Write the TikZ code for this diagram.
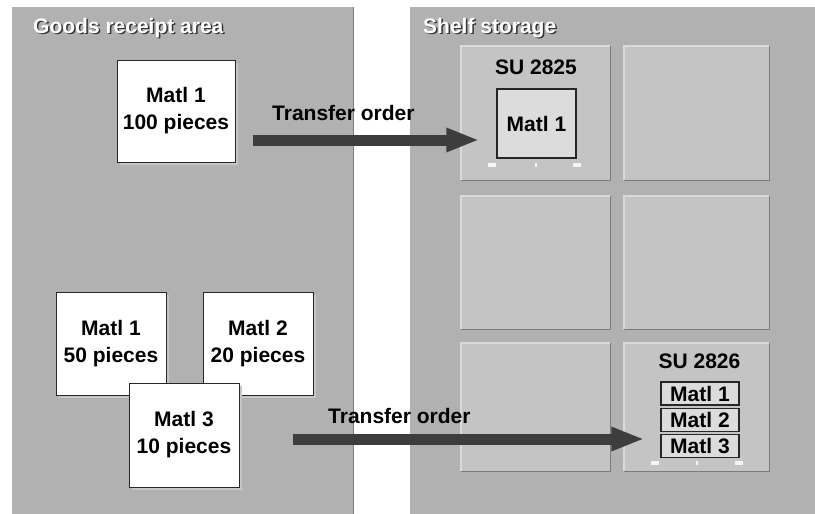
\documentclass[tikz,border=0pt]{standalone}
\usepackage{fontspec}
\setmainfont{Liberation Sans}
\usetikzlibrary{positioning, arrows.meta, shadows, calc}

\definecolor{panelgray}{HTML}{B1B1B1}
\definecolor{shelfgray}{HTML}{C4C4C4}
\definecolor{edgelight}{HTML}{DADADA}
\definecolor{edgedark}{HTML}{7A7A7A}
\definecolor{matgray}{HTML}{DCDCDC}
\definecolor{arrowgray}{HTML}{3D3D3D}
\definecolor{shadowgray}{HTML}{C6C6C6}

\tikzset{
  txt/.style={font=\fontsize{21}{27}\selectfont\bfseries, text=black, inner sep=0pt},
  panel/.style={fill=panelgray, draw=none, anchor=north west, inner sep=0pt},
  title/.style={txt, text=white, anchor=base west},
  titleshadow/.style={txt, text=black!80, anchor=base west},
  matbox/.style={txt, draw=black!85, line width=1pt, fill=white, align=center,
    drop shadow={shadow xshift=3pt, shadow yshift=-3pt, fill=shadowgray, opacity=1}},
  shelf/.style={fill=shelfgray, draw=none, anchor=north west, inner sep=0pt},
  sumat/.style={txt, draw=black!85, line width=1.2pt, fill=matgray},
  slotmark/.style={fill=white!92!gray, draw=none, inner sep=0pt, minimum height=4pt},
  transfer/.style={arrowgray, line width=11pt, -{Triangle[length=33pt, width=22pt]}}
}

\begin{document}
\begin{tikzpicture}[x=1pt, y=-1pt]
  \useasboundingbox (0,0) rectangle (815,514);

  % Areas
  \node[panel, minimum width=341pt, minimum height=507pt] (recv) at (12,7) {};
  \node[panel, minimum width=405pt, minimum height=507pt] (store) at (410,7) {};
  \draw[edgedark, line width=1pt] (recv.north east) -- (recv.south east);

  \node[titleshadow] (recvshadow) at (34.5,34.5) {Goods receipt area};
  \node[title] (recvtitle) at (33,33) {Goods receipt area};
  \node[titleshadow] (storeshadow) at (424.5,34.5) {Shelf storage};
  \node[title] (storetitle) at (423,33) {Shelf storage};

  % Shelf bins
  \foreach \c/\cx/\cw in {1/461/149, 2/624/145}
    \foreach \r/\ry/\rh in {1/46/134, 2/196/133, 3/343/128}
    {
      \node[shelf, minimum width=\cw pt, minimum height=\rh pt] (s\r\c) at (\cx,\ry) {};
      \draw[edgelight, line width=1.5pt] (s\r\c.south west) -- (s\r\c.north west) -- (s\r\c.north east);
      \draw[edgedark, line width=1.5pt] (s\r\c.north east) -- (s\r\c.south east) -- (s\r\c.south west);
    }

  % Storage unit 2825
  \node[txt, anchor=base] (su1) at (536,74) {SU 2825};
  \node[sumat, minimum width=79pt, minimum height=69pt] (su1mat) at (536.5,123.5) {Matl 1};
  \foreach \mx/\mw [count=\i] in {-44/8, 0/2, 41/8}
    \node[slotmark, minimum width=\mw pt] (mka\i) at ($(s11.south)+(\mx,-15)$) {};

  % Storage unit 2826
  \node[txt, anchor=base] (su2) at (699.5,368) {SU 2826};
  \node[sumat, minimum width=78pt, minimum height=23pt] (su2m1) at (700,393.5) {Matl 1};
  \node[sumat, minimum width=78pt, minimum height=23pt, below=2pt of su2m1] (su2m2) {Matl 2};
  \node[sumat, minimum width=78pt, minimum height=23pt, below=2pt of su2m2] (su2m3) {Matl 3};
  \foreach \mx/\mw [count=\i] in {-41.5/8, 0.5/2, 42.5/8}
    \node[slotmark, minimum width=\mw pt] (mkb\i) at ($(s32.south)+(\mx,-8)$) {};

  % Goods in the receipt area
  \node[matbox, minimum width=118pt, minimum height=102pt] (m100) at (176,111) {Matl 1\\100 pieces};
  \node[matbox, minimum width=110pt, minimum height=103pt] (m50) at (111,343.5) {Matl 1\\50 pieces};
  \node[matbox, minimum width=110pt, minimum height=103pt] (m20) at (258,343.5) {Matl 2\\20 pieces};
  \node[matbox, minimum width=110pt, minimum height=104pt] (m10) at (184,435) {Matl 3\\10 pieces};

  % Transfer orders
  \coordinate (lane1) at (0,140);
  \coordinate (lane2) at (0,439);
  \node[txt, anchor=base west] (order1) at (272,120) {Transfer order};
  \node[txt, anchor=base west] (order2) at (328,423) {Transfer order};
  \draw[transfer, shorten <=17pt, shorten >=17pt] (m100.east |- lane1) -- (su1mat.west |- lane1);
  \draw[transfer, shorten <=53pt, shorten >=16pt] (m10.east |- lane2) -- (su2m3.west |- lane2);
\end{tikzpicture}
\end{document}
